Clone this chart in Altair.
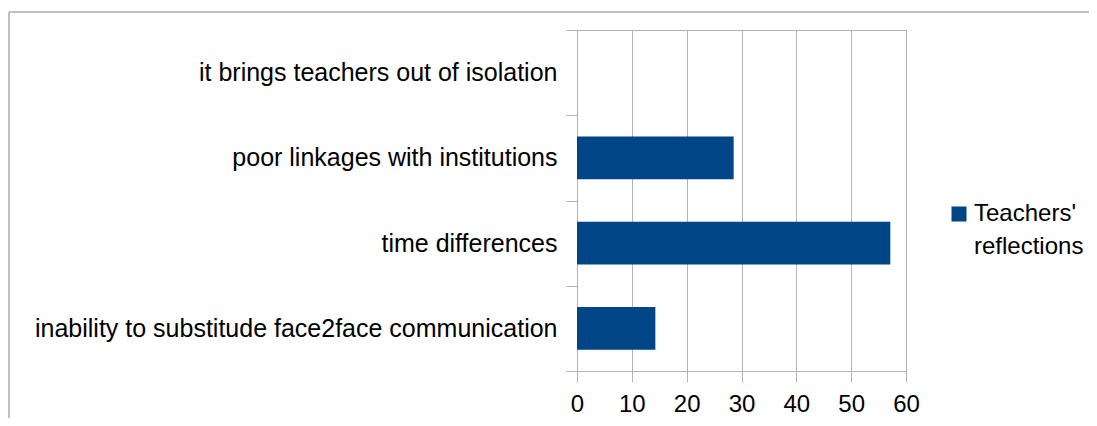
import altair as alt
import pandas as pd

categories = [
    "it brings teachers out of isolation",
    "poor linkages with institutions",
    "time differences",
    "inability to substitude face2face communication",
]
values = [0, 28.57, 57.14, 14.29]
series = ["Teachers' reflections"]
x_ticks = [0, 10, 20, 30, 40, 50, 60]

df = pd.DataFrame({"category": categories, "value": values, "series": series * len(categories)})

FONT = "Liberation Sans"
GRID = "#b3b3b3"

bars = alt.Chart(df).mark_bar(color="#004586", height={"band": 0.5}).encode(
    x=alt.X(
        "value:Q",
        scale=alt.Scale(domain=[0, 60], nice=False),
        axis=alt.Axis(
            values=x_ticks,
            title=None,
            grid=True,
            tickSize=11,
            labelPadding=10,
            labelFontSize=24,
            labelFlush=False,
        ),
    ),
    y=alt.Y(
        "category:N",
        sort=categories,
        scale=alt.Scale(paddingInner=0, paddingOuter=0),
        axis=alt.Axis(
            title=None,
            grid=False,
            tickBand="extent",
            tickSize=11,
            labelPadding=9,
            labelFontSize=25,
            labelLimit=0,
        ),
    ),
    color=alt.Color(
        "series:N",
        scale=alt.Scale(domain=series, range=["#004586"]),
        legend=alt.Legend(
            title=None,
            orient="none",
            legendX=370,
            legendY=172,
            symbolType="square",
            symbolSize=225,
            symbolStrokeWidth=0,
            symbolOpacity=1,
            labelFontSize=24,
            labelOffset=3,
            padding=0,
            labelExpr='["Teachers\'", "reflections"]',
        ),
    ),
)

frame = pd.DataFrame({"a": [0]})
left_border = alt.Chart(frame).mark_rule(color="#c0c0c0", strokeWidth=2).encode(
    x=alt.value(-568), y=alt.value(-18), y2=alt.value(390)
)
top_border = alt.Chart(frame).mark_rule(color="#c0c0c0", strokeWidth=2).encode(
    x=alt.value(-568), x2=alt.value(520), y=alt.value(-18)
)

chart = (
    alt.layer(bars, left_border, top_border)
    .properties(
        width=329,
        height=341,
        autosize=alt.AutoSizeParams(type="none"),
        padding={"left": 569, "top": 22, "right": 183, "bottom": 47},
    )
    .configure(style={"guide-label": {"lineHeight": 33}})
    .configure_view(stroke=GRID, strokeWidth=1)
    .configure_axis(
        gridColor=GRID,
        domainColor=GRID,
        tickColor=GRID,
        labelColor="#000000",
        labelFont=FONT,
    )
    .configure_legend(labelFont=FONT, labelColor="#000000")
)

chart.save("out.html", embed_options={"renderer": "svg", "actions": False})
